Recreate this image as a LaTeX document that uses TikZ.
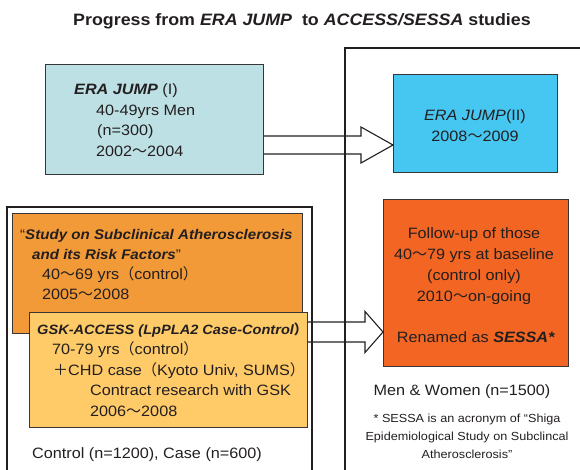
\documentclass[tikz,border=0pt]{standalone}
\usepackage{fontspec}
\setmainfont[FakeStretch=1.08]{Liberation Sans}
\newfontfamily\cjk{Noto Sans CJK JP}
\newcommand{\jp}[1]{{\cjk #1}}
\usetikzlibrary{calc}
\definecolor{jumpone}{HTML}{BDE0E4}
\definecolor{jumptwo}{HTML}{45C7F2}
\definecolor{subcl}{HTML}{F39A38}
\definecolor{gskacc}{HTML}{FFCA68}
\definecolor{sessa}{HTML}{F26522}
\definecolor{ink}{HTML}{231F20}

\begin{document}
\begin{tikzpicture}[x=1pt,y=-1pt,
  box/.style={draw=ink!90,line width=1.1pt,inner sep=0pt,anchor=north west},
  txt/.style={inner sep=0pt,anchor=base west,text=ink,font=\fontsize{15}{18}\selectfont},
  ctxt/.style={txt,anchor=base},
  hd/.style={txt,font=\fontsize{14}{18}\selectfont\bfseries\itshape},
  note/.style={ctxt,font=\fontsize{11.7}{14}\selectfont},
  frame/.style={draw=ink,line width=1.2pt},
  fat/.style={draw=ink,line width=1.1pt,line join=miter}]
\useasboundingbox (0,0) rectangle (580,470);

% the two study frames
\draw[frame] (345,470) -- (345,48) -- (580,48);
\draw[frame] (7,470) -- (7,207) -- (312,207) -- (312,470);

% boxes
\node[box,fill=jumpone,minimum width=218pt,minimum height=110pt] (jump1) at (45,64) {};
\node[box,fill=jumptwo,minimum width=164pt,minimum height=98pt] (jump2) at (393,74) {};
\node[box,fill=subcl,minimum width=290pt,minimum height=120pt] (study) at (12,213) {};
\node[box,fill=gskacc,minimum width=278pt,minimum height=115pt] (gsk) at (29,312) {};
\node[box,fill=sessa,minimum width=185pt,minimum height=167pt] (sessa) at (383,199) {};

% block arrows
\coordinate (tipA) at (jump2.west |- 0,145);
\draw[fat] ($(jump1.east |- tipA)+(0,-9)$) -- ($(tipA)+(-32,-9)$) -- ($(tipA)+(-32,-18)$) -- (tipA)
  -- ($(tipA)+(-32,18)$) -- ($(tipA)+(-32,9)$) -- ($(jump1.east |- tipA)+(0,9)$);
\coordinate (tipB) at (sessa.west |- 0,332);
\draw[fat] ($(gsk.east |- tipB)+(0,-10)$) -- ($(tipB)+(-18,-10)$) -- ($(tipB)+(-18,-20.5)$) -- (tipB)
  -- ($(tipB)+(-18,20.5)$) -- ($(tipB)+(-18,10)$) -- ($(gsk.east |- tipB)+(0,10)$);

% title
\node[ctxt,font=\fontsize{16.5}{20}\selectfont\bfseries] (title) at (302,25.7)
  {Progress from \textit{ERA JUMP}\ \ to \textit{ACCESS/SESSA} studies};

% ERA JUMP (I)
\node[txt] (j1a) at (74,95) {\textbf{\textit{ERA JUMP}} (I)};
\node[txt] (j1b) at (96,116) {40-49yrs Men};
\node[txt] (j1c) at (97,136) {(n=300)};
\node[txt] (j1d) at (96,157) {2002\jp{～}2004};

% ERA JUMP (II)
\node[ctxt] (j2a) at (475,121) {\textit{ERA JUMP}(II)};
\node[ctxt] (j2b) at (475,142) {2008\jp{～}2009};

% subclinical study
\node[hd] (s1) at (20,239) {{\mdseries\upshape “}Study on Subclinical Atherosclerosis};
\node[hd] (s2) at (32,259) {and its Risk Factors{\mdseries\upshape ”}};
\node[txt] (s3) at (42,279) {40\jp{～}69 yrs\jp{（}control\jp{）}};
\node[txt] (s4) at (42,299) {2005\jp{～}2008};

% GSK-ACCESS
\node[hd,font=\fontsize{13.5}{18}\selectfont\bfseries\itshape] (g1) at (37,334)
  {GSK-ACCESS (LpPLA2 Case-Control\jp{）}};
\node[txt] (g2) at (52,354.5) {70-79 yrs\jp{（}control\jp{）}};
\node[txt] (g3) at (53,375) {\jp{＋}CHD case\jp{（}Kyoto Univ, SUMS\jp{）}};
\node[txt] (g4) at (90,395.5) {Contract research with GSK};
\node[txt] (g5) at (90,416) {2006\jp{～}2008};
\node[txt] (ctl) at (32,458) {Control (n=1200), Case (n=600)};

% SESSA
\node[ctxt] (f1) at (474,238) {Follow-up of those};
\node[ctxt] (f2) at (474,259) {40\jp{～}79 yrs at baseline};
\node[ctxt] (f3) at (474,280) {(control only)};
\node[ctxt] (f4) at (474,301) {2010\jp{～}on-going};
\node[ctxt] (f5) at (476,342) {Renamed as \textbf{\textit{SESSA*}}};
\node[ctxt] (mw) at (462,395) {Men \& Women (n=1500)};
\node[note] (n1) at (467,422) {* SESSA is an acronym of “Shiga};
\node[note] (n2) at (467,440) {Epidemiological Study on Subclincal};
\node[note] (n3) at (467,458) {Atherosclerosis"};
\end{tikzpicture}
\end{document}
